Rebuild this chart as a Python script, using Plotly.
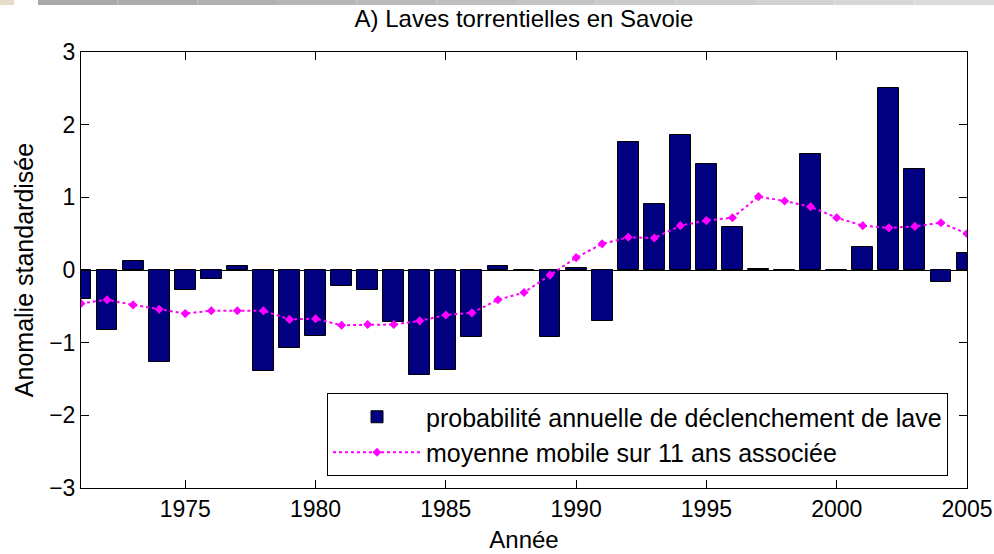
import plotly.graph_objects as go

years = list(range(1971, 2006))
anomalie = [-0.40, -0.83, 0.12, -1.26, -0.28, -0.12, 0.06, -1.39, -1.07, -0.91,
            -0.22, -0.28, -0.71, -1.44, -1.38, -0.92, 0.05, 0.0, -0.92, 0.03,
            -0.70, 1.76, 0.91, 1.86, 1.46, 0.59, 0.02, 0.0, 1.60, 0.0,
            0.32, 2.50, 1.39, -0.17, 0.24]
moyenne_mobile = [-0.46, -0.41, -0.48, -0.54, -0.60, -0.56, -0.56, -0.56, -0.68, -0.67,
                  -0.76, -0.75, -0.75, -0.70, -0.62, -0.59, -0.41, -0.31, -0.07, 0.17,
                  0.36, 0.45, 0.44, 0.61, 0.68, 0.72, 1.01, 0.95, 0.87, 0.72,
                  0.61, 0.58, 0.60, 0.65, 0.50]
x_ticks = [1975, 1980, 1985, 1990, 1995, 2000, 2005]
y_ticks = [-3, -2, -1, 0, 1, 2, 3]

FONT = "Liberation Sans, Arial, sans-serif"

W, H = 994, 554
L, R, T, B = 81, 27, 52, 66
PW, PH = W - L - R, H - T - B


def px_x(p):
    return (p - L) / PW


def px_y(p):
    return (H - B - p) / PH


fig = go.Figure()
fig.add_trace(go.Bar(
    x=years, y=anomalie, width=0.8,
    marker=dict(color="#000080", line=dict(color="black", width=1)),
    name="probabilité annuelle de déclenchement de lave",
))
fig.add_trace(go.Scatter(
    x=years, y=moyenne_mobile, mode="lines+markers",
    line=dict(color="#FF00FF", width=2, dash="dot"),
    marker=dict(symbol="diamond", size=7, color="#FF00FF"),
    name="moyenne mobile sur 11 ans associée",
))

# decorative screenshot band at the top of the page
shapes = [dict(type="rect", xref="paper", yref="paper", x0=px_x(0), x1=px_x(14),
               y0=px_y(5), y1=px_y(0), fillcolor="#e6dccb", line_width=0, layer="above")]
n = 12
x_start, x_end = 38, 994
for i in range(n):
    xa = x_start + (x_end - x_start) * i / n
    xb = x_start + (x_end - x_start) * (i + 1) / n
    g = int(0xa8 + (0xdc - 0xa8) * i / (n - 1))
    shapes.append(dict(type="rect", xref="paper", yref="paper",
                       x0=px_x(xa), x1=px_x(xb), y0=px_y(5), y1=px_y(0),
                       fillcolor="rgb(%d,%d,%d)" % (g, g, g), line_width=0, layer="above"))

fig.update_layout(
    width=W, height=H,
    margin=dict(l=L, r=R, t=T, b=B, autoexpand=False),
    paper_bgcolor="white", plot_bgcolor="white",
    font=dict(family=FONT, size=23, color="black"),
    title=dict(text="A) Laves torrentielles en Savoie", x=0.5, xref="paper",
               y=1 - 19 / H, yanchor="middle", font=dict(size=24), automargin=False),
    bargap=0,
    shapes=shapes,
    legend=dict(x=px_x(327), y=px_y(393), xanchor="left", yanchor="top",
                bgcolor="white", bordercolor="black", borderwidth=1,
                font=dict(size=25), itemwidth=88, tracegroupgap=0),
    showlegend=True,
)
fig.update_xaxes(
    range=[1971, 2005], tickvals=x_ticks, ticks="inside", ticklen=8, tickcolor="black",
    showline=True, linecolor="black", linewidth=1, mirror="allticks", showgrid=False,
    zeroline=False, automargin=False,
    title=dict(text="Année", standoff=10, font=dict(size=24)), tickfont=dict(size=23),
)
fig.update_yaxes(
    range=[-3, 3], tickvals=y_ticks, ticks="inside", ticklen=8, tickcolor="black",
    showline=True, linecolor="black", linewidth=1, mirror="allticks", showgrid=False,
    zeroline=True, zerolinecolor="black", zerolinewidth=1, automargin=False,
    title=dict(text="Anomalie standardisée", standoff=8, font=dict(size=25)), tickfont=dict(size=23),
)
fig.write_html("out.html", config={"displayModeBar": False},
               post_script="document.body.style.margin='0';")
